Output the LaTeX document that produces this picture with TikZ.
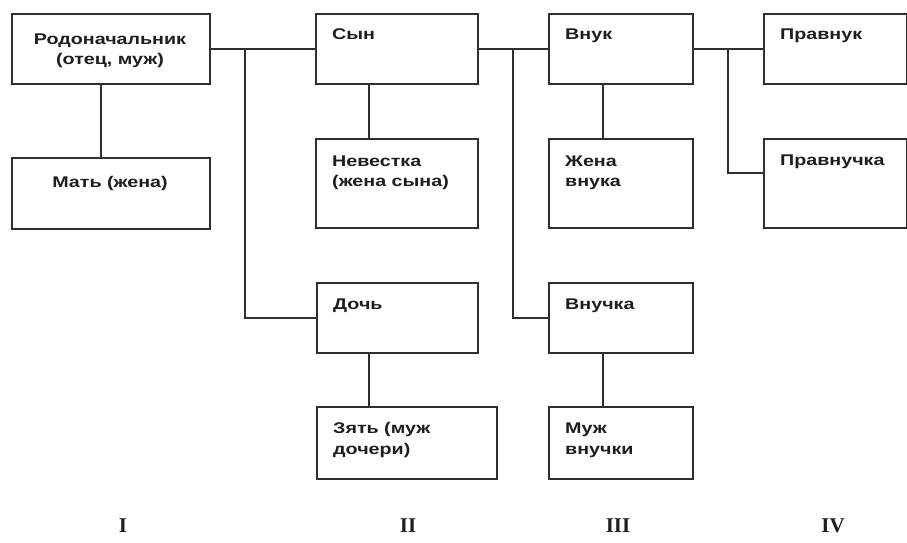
\documentclass[tikz,border=0pt]{standalone}
\usepackage{fontspec}
\setmainfont{Liberation Sans}[FakeStretch=1.27]
\newfontfamily\romfont{Liberation Serif}
\definecolor{lncol}{HTML}{303030}
\definecolor{txcol}{HTML}{1E1E1E}
\begin{document}
\begin{tikzpicture}[x=1pt,y=-1pt,
  box/.style={draw=lncol, line width=1.8pt, fill=white, anchor=north west, inner sep=0pt},
  lbl/.style={text=txcol, inner sep=0pt, font=\fontsize{15.5}{20.5}\selectfont\bfseries},
  conn/.style={draw=lncol, line width=1.8pt},
  roman/.style={text=txcol, inner sep=0pt, font=\romfont\fontsize{21}{24}\selectfont\bfseries}]
\useasboundingbox[fill=white] (0,0) rectangle (907,543);
% boxes
\node[box, minimum width=198pt, minimum height=70pt] (A) at (11,13) {};
\node[box, minimum width=198pt, minimum height=71pt] (B) at (11,157) {};
\node[box, minimum width=162pt, minimum height=70pt] (C) at (315,13) {};
\node[box, minimum width=162pt, minimum height=89pt] (D) at (315,138) {};
\node[box, minimum width=161pt, minimum height=70pt] (E) at (316,282) {};
\node[box, minimum width=180pt, minimum height=72pt] (F) at (316,406) {};
\node[box, minimum width=144pt, minimum height=70pt] (G) at (548,13) {};
\node[box, minimum width=144pt, minimum height=89pt] (H) at (548,138) {};
\node[box, minimum width=144pt, minimum height=70pt] (J) at (548,282) {};
\node[box, minimum width=144pt, minimum height=72pt] (K) at (548,406) {};
\node[box, minimum width=143pt, minimum height=70pt] (L) at (763,13) {};
\node[box, minimum width=143pt, minimum height=89pt] (M) at (763,138) {};
% texts (base anchor of a multi-line node = baseline of its last line)
\node[lbl, align=center, anchor=base] (tA) at ([xshift=99pt,yshift=-52pt]A.north west) {Родоначальник\\(отец, муж)};
\node[lbl, anchor=base] (tB) at ([xshift=99pt,yshift=-30pt]B.north west) {Мать (жена)};
\node[lbl, anchor=base west] (tC) at ([xshift=17pt,yshift=-27pt]C.north west) {Сын};
\node[lbl, align=left, anchor=base west] (tD) at ([xshift=17pt,yshift=-48.5pt]D.north west) {Невестка\\(жена сына)};
\node[lbl, anchor=base west] (tE) at ([xshift=17pt,yshift=-27pt]E.north west) {Дочь};
\node[lbl, align=left, anchor=base west] (tF) at ([xshift=17pt,yshift=-48pt]F.north west) {Зять (муж\\дочери)};
\node[lbl, anchor=base west] (tG) at ([xshift=17pt,yshift=-27pt]G.north west) {Внук};
\node[lbl, align=left, anchor=base west] (tH) at ([xshift=17pt,yshift=-48.5pt]H.north west) {Жена\\внука};
\node[lbl, anchor=base west] (tJ) at ([xshift=17pt,yshift=-27pt]J.north west) {Внучка};
\node[lbl, align=left, anchor=base west] (tK) at ([xshift=17pt,yshift=-48pt]K.north west) {Муж\\внучки};
\node[lbl, anchor=base west] (tL) at ([xshift=17pt,yshift=-27pt]L.north west) {Правнук};
\node[lbl, anchor=base west] (tM) at ([xshift=17pt,yshift=-27pt]M.north west) {Правнучка};
% generation numerals
\node[roman] (r1) at (123,526) {I};
\node[roman] (r2) at (408,526) {II};
\node[roman] (r3) at (618,526) {III};
\node[roman] (r4) at (833,526) {IV};
% junction coordinates
\coordinate (j1) at (245,48);
\coordinate (j2) at (513,48);
\coordinate (j3) at (728,48);
% connectors
\draw[conn] ([xshift=90pt]A.south west) -- ([xshift=90pt]B.north west);
\draw[conn] (A.east) -- (C.west);
\draw[conn] (j1) |- (E.west);
\draw[conn] ([xshift=54pt]C.south west) -- ([xshift=54pt]D.north west);
\draw[conn] ([xshift=53pt]E.south west) -- ([xshift=53pt]F.north west);
\draw[conn] (C.east) -- (G.west);
\draw[conn] (j2) |- (J.west);
\draw[conn] ([xshift=55pt]G.south west) -- ([xshift=55pt]H.north west);
\draw[conn] ([xshift=55pt]J.south west) -- ([xshift=55pt]K.north west);
\draw[conn] (G.east) -- (L.west);
\draw[conn] (j3) |- ([yshift=-35pt]M.north west);
\end{tikzpicture}
\end{document}
